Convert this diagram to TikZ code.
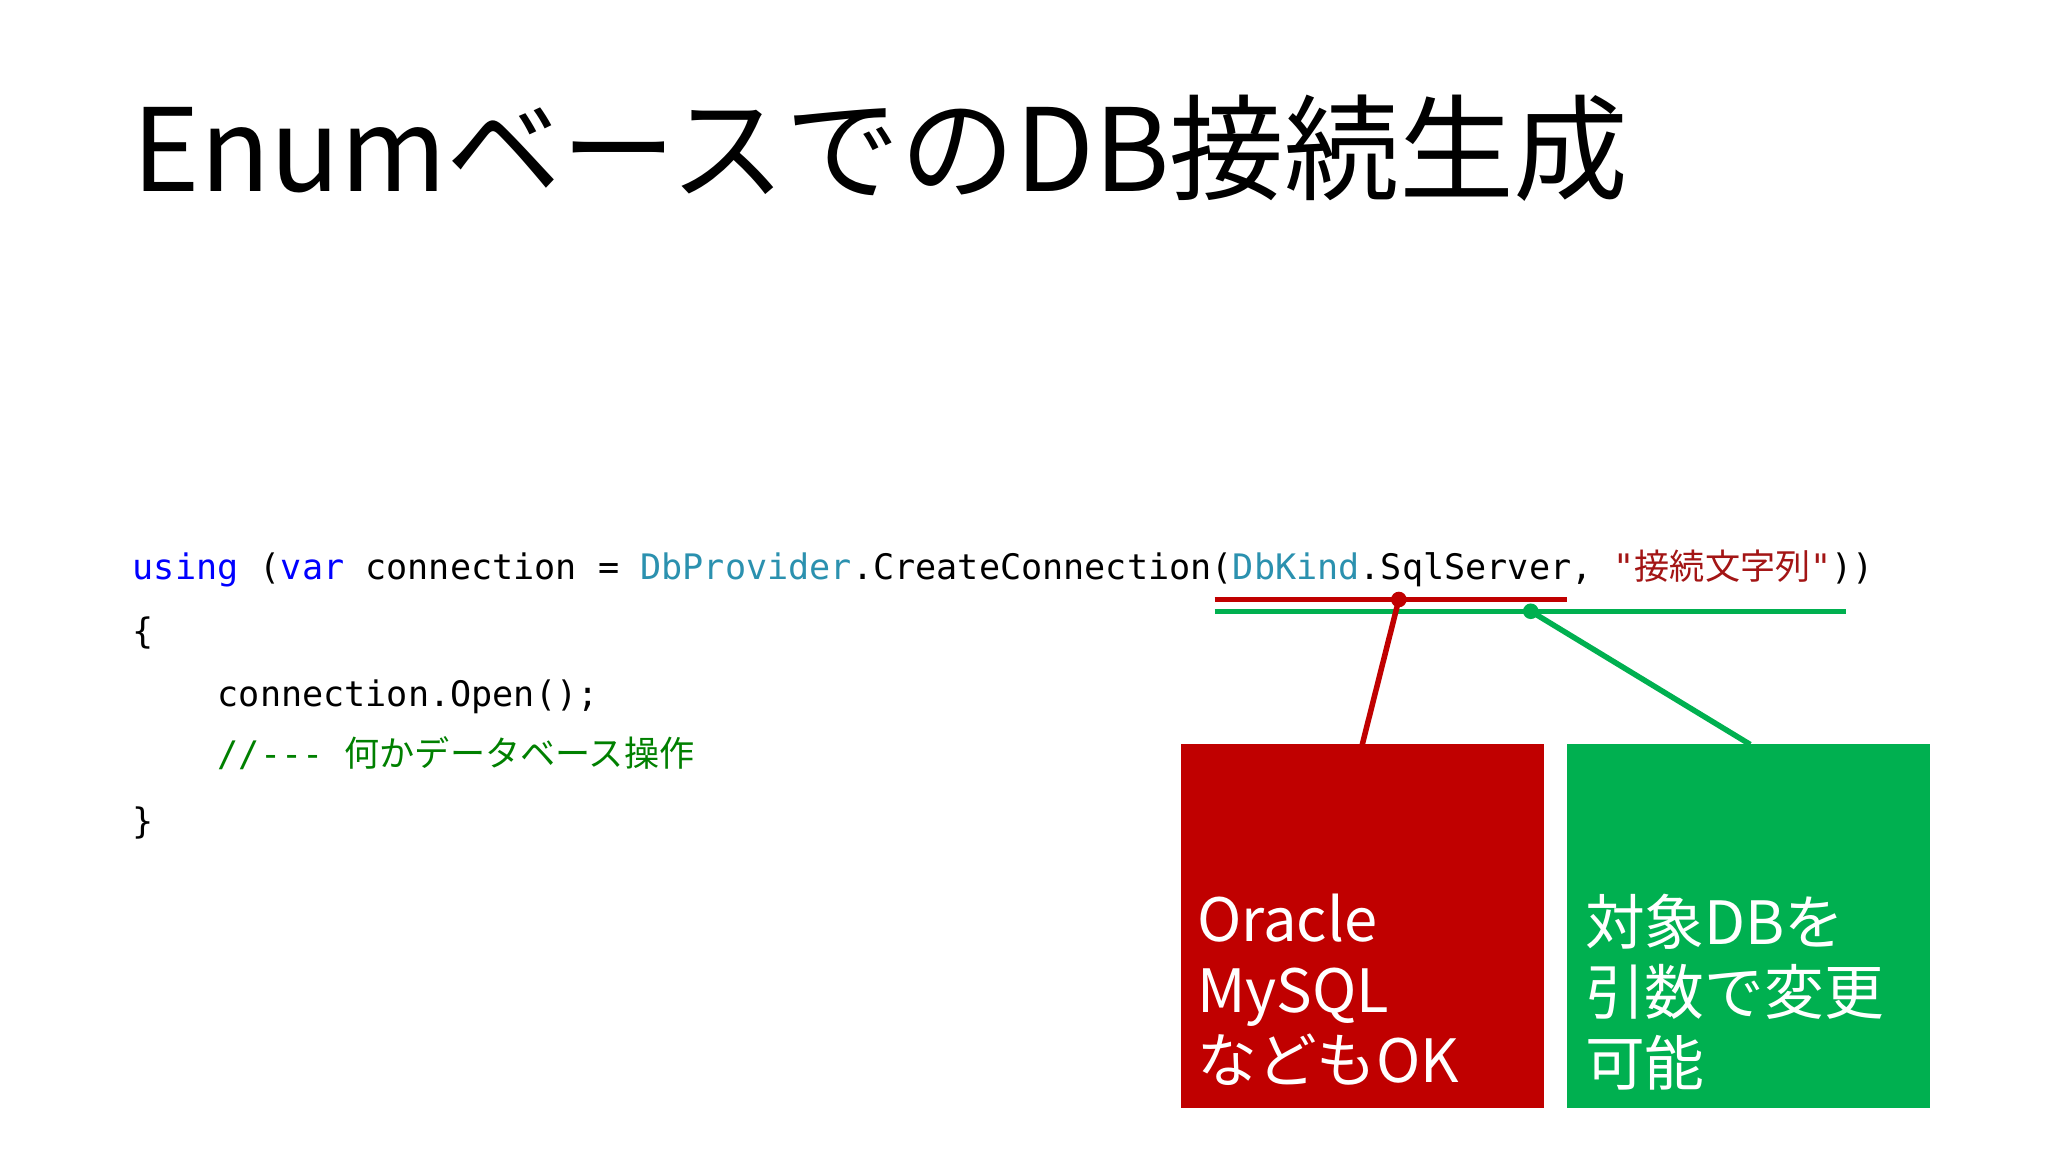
\documentclass[tikz,border=0pt]{standalone}
\usepackage{fontspec}
\setmainfont{Noto Sans CJK JP}
\newfontfamily\cjk{Noto Sans CJK JP}
\newfontfamily\mono{DejaVu Sans Mono}
\definecolor{rbox}{HTML}{C00000}
\definecolor{gbox}{HTML}{00B050}
\definecolor{kw}{HTML}{0000FF}
\definecolor{ty}{HTML}{2B91AF}
\definecolor{st}{HTML}{A31515}
\definecolor{cm}{HTML}{008000}
\begin{document}
\begin{tikzpicture}[x=0.01cm,y=-0.01cm,
  code/.style={anchor=base west,inner sep=0,font=\mono\fontsize{7.65}{9}\selectfont},
  boxtext/.style={anchor=north west,align=left,text=white,inner sep=0,font=\cjk\fontsize{13}{15.3}\selectfont},
  dot/.style={circle,fill,inner sep=1.2pt}]
\useasboundingbox (0,0) rectangle (1568,882);
\fill[white] (0,0) rectangle (1568,882);
\node[anchor=base west,inner sep=0,font=\fontsize{25}{30}\selectfont] (title) at (101,147) {Enumベースでの{}DB接続生成};
\node[code] (l1) at (101,444) {\textcolor{kw}{using} (\textcolor{kw}{var} connection = \textcolor{ty}{DbProvider}.CreateConnection(\textcolor{ty}{DbKind}.SqlServer, \textcolor{st}{"{\cjk 接続文字列}"}))};
\node[code] (l2) at (101,493) {\{};
\node[code] (l3) at (166,541) {connection.Open();};
\node[code] (l4) at (166,587) {\textcolor{cm}{//--- {\cjk 何かデータベース操作}}};
\node[code] (l5) at (101,638) {\}};
\fill[rbox] (904,570) rectangle (1182,848);
\fill[gbox] (1200,570) rectangle (1478,848);
\coordinate (rtop) at (1043,570);
\coordinate (gtop) at (1340,570);
\draw[rbox,line width=1.2pt] (930,459) -- (1200,459);
\draw[gbox,line width=1.2pt] (930,468) -- (1413,468);
\coordinate (rj) at (1071,459);
\coordinate (gj) at (1172,468);
\draw[rbox,line width=1.2pt] (rj) -- (rtop);
\draw[gbox,line width=1.2pt] (gj) -- (gtop);
\node[dot,rbox] at (rj) {};
\node[dot,gbox] at (gj) {};
\node[boxtext] (rt) at (916,684) {Oracle\\MySQL\\などもOK};
\node[boxtext] (gt) at (1213,684) {対象DBを\\引数で変更\\可能};
\end{tikzpicture}
\end{document}
